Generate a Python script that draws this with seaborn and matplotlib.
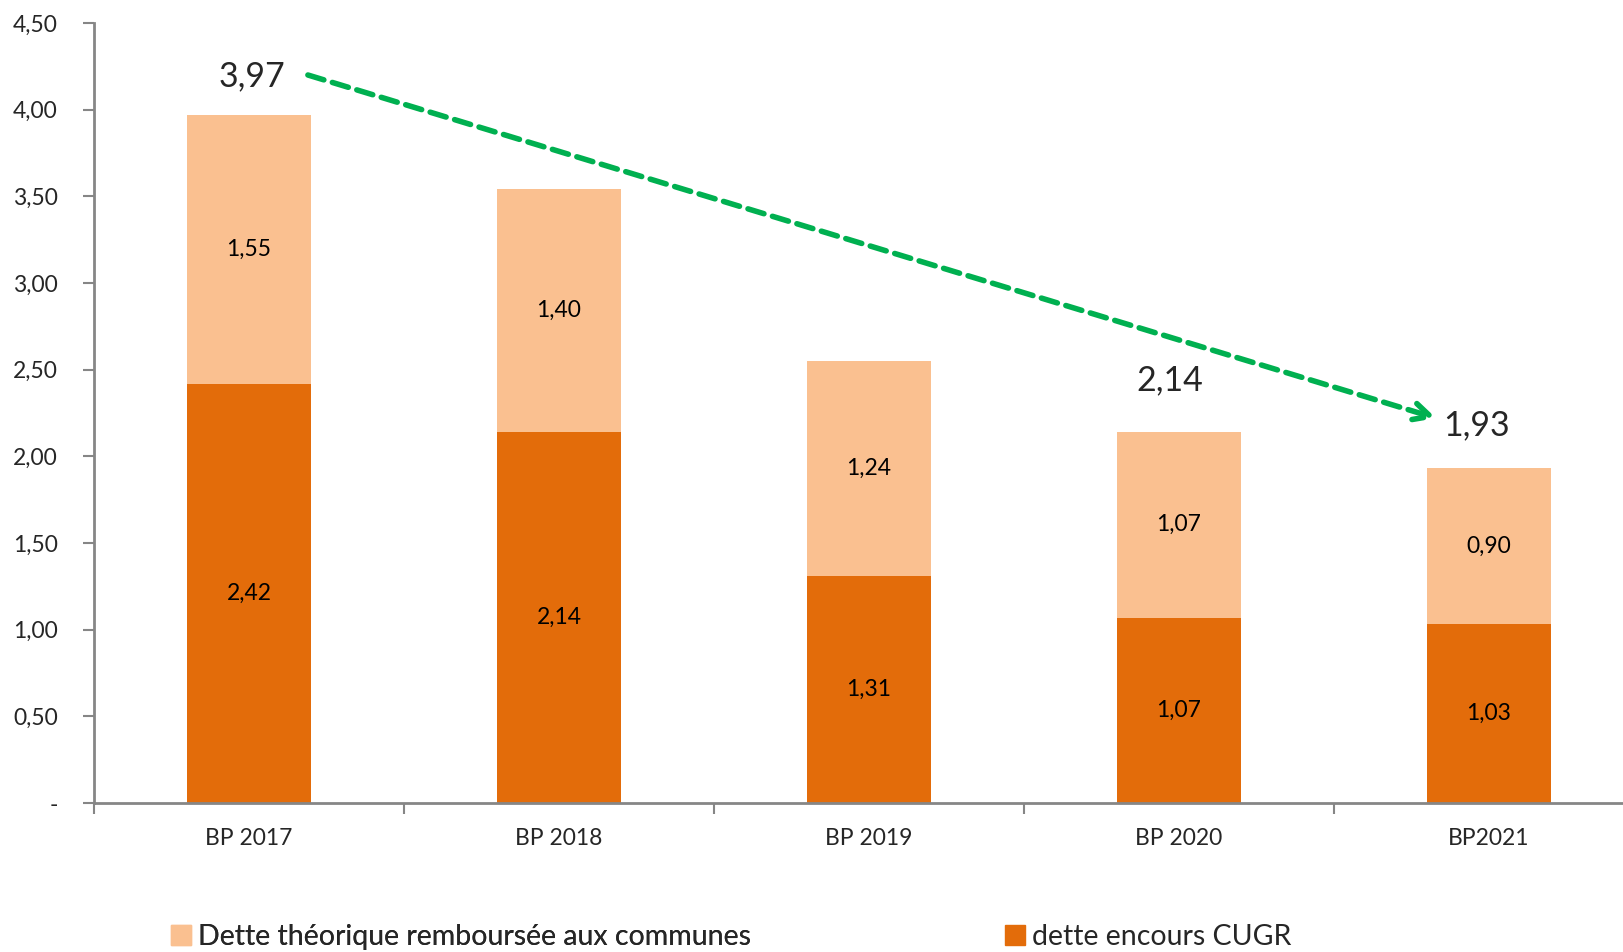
import matplotlib
matplotlib.use("Agg")
import matplotlib.pyplot as plt
import seaborn as sns
from matplotlib.patches import Patch

# data
categories = ["BP 2017", "BP 2018", "BP 2019", "BP 2020", "BP2021"]
encours_cugr = [2.42, 2.14, 1.31, 1.07, 1.03]
dette_communes = [1.55, 1.40, 1.24, 1.07, 0.90]
totals = [a + b for a, b in zip(encours_cugr, dette_communes)]
total_labels = {0: "3,97", 3: "2,14", 4: "1,93"}
yticks = [0, 0.5, 1.0, 1.5, 2.0, 2.5, 3.0, 3.5, 4.0, 4.5]
ytick_labels = ["-", "0,50", "1,00", "1,50", "2,00", "2,50", "3,00", "3,50", "4,00", "4,50"]

dark = "#E36C0A"
light = "#FAC090"
green = "#00B050"
grey = "#868686"

sns.set_style("white")
plt.rcParams["font.family"] = ["Lato", "DejaVu Sans"]

fig = plt.figure(figsize=(16.23, 9.52), dpi=100)
ax = fig.add_axes([94 / 1623, 149 / 952, 1550 / 1623, 780 / 952])

# stacked bars: total first, then the bottom part over it
sns.barplot(x=categories, y=totals, color=light, width=0.4, ax=ax, saturation=1, linewidth=0)
sns.barplot(x=categories, y=encours_cugr, color=dark, width=0.4, ax=ax, saturation=1, linewidth=0)

for i, (b, t) in enumerate(zip(encours_cugr, dette_communes)):
    ax.text(i, b / 2, f"{b:.2f}".replace(".", ","), ha="center", va="center", fontsize=16.5, color="black")
    ax.text(i, b + t / 2, f"{t:.2f}".replace(".", ","), ha="center", va="center", fontsize=16.5, color="black")

# totals
ax.text(0.01, 4.19, total_labels[0], ha="center", va="center", fontsize=24.5)
ax.text(2.97, 2.44, total_labels[3], ha="center", va="center", fontsize=24.5)
ax.text(3.96, 2.18, total_labels[4], ha="center", va="center", fontsize=24.5)

# trend arrow
ax.annotate("", xy=(3.83, 2.22), xytext=(0.19, 4.2),
            arrowprops=dict(arrowstyle="->", color=green, lw=4, linestyle=(0, (3, 1.6)),
                            mutation_scale=30, shrinkA=0, shrinkB=0))

ax.set_xlim(-0.5, 4.5)
ax.set_ylim(0, 4.5)
ax.set_yticks(yticks)
ax.set_yticklabels(ytick_labels, fontsize=16.5)
ax.set_xticks(range(len(categories)))
ax.set_xticklabels(categories, fontsize=16.5)
ax.set_xticks([i - 0.5 for i in range(len(categories) + 1)], minor=True)
ax.tick_params(axis="x", which="major", length=0, pad=18)
ax.tick_params(axis="x", which="minor", length=8, color=grey, width=1.5, direction="out", bottom=True)
ax.tick_params(axis="y", length=8, color=grey, width=1.5, direction="out", left=True, pad=18)
ax.set_xlabel("")
ax.set_ylabel("")
for s in ["top", "right"]:
    ax.spines[s].set_visible(False)
for s in ["left", "bottom"]:
    ax.spines[s].set_color(grey)
    ax.spines[s].set_linewidth(2)

# legend entries, placed like the original
leg_kw = dict(frameon=False, fontsize=20.5, handlelength=0.7, handleheight=0.7,
              handletextpad=0.25, borderpad=0, borderaxespad=0, loc="center left")
leg1 = fig.legend(handles=[Patch(color=light, label="Dette théorique remboursée aux communes")],
                  bbox_to_anchor=(171 / 1623, 15 / 952), **leg_kw)
fig.add_artist(leg1)
fig.legend(handles=[Patch(color=dark, label="dette encours CUGR")],
           bbox_to_anchor=(1005 / 1623, 15 / 952), **leg_kw)

fig.savefig("out.png", dpi=100)
